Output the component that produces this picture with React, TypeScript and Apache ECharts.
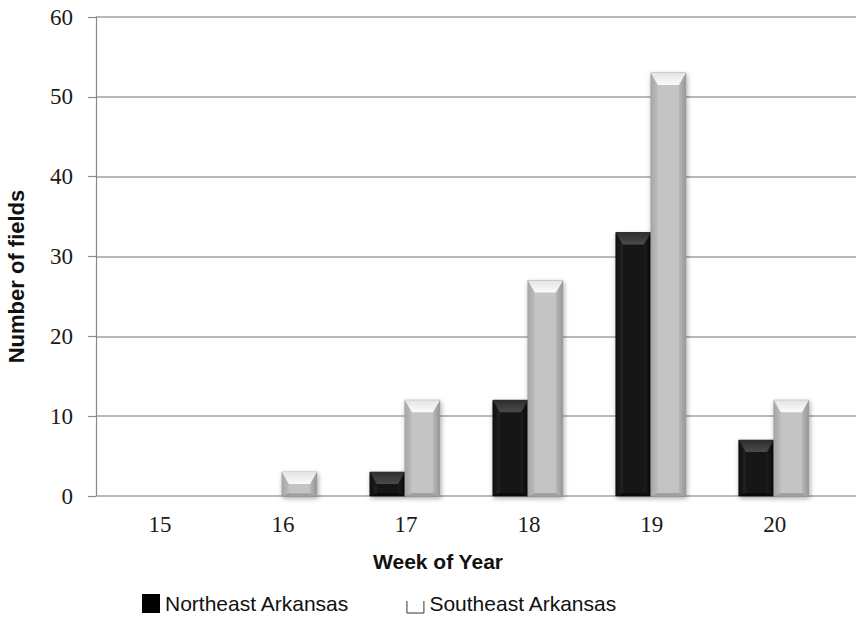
import React, { useEffect, useRef } from "react";
import * as echarts from "echarts";

const weeks = [15, 16, 17, 18, 19, 20];
const northeast = [0, 0, 3, 12, 33, 7];
const southeast = [0, 3, 12, 27, 53, 12];
const yTicks = [0, 10, 20, 30, 40, 50, 60];

const BAR_W = 35;

function bevelRenderer(offset: number, dark: boolean) {
  return (params: any, api: any) => {
    const x = api.value(0);
    const y = api.value(1);
    const top = api.coord([x, y]);
    const base = api.coord([x, 0]);
    const cx = top[0] + offset;
    const l = cx - BAR_W / 2;
    const r = cx + BAR_W / 2;
    const t = top[1];
    const b = base[1];
    const h = b - t;
    if (h <= 0.5) return null;
    const bev = Math.min(12, h * 0.55);
    const ins = 7;
    const bot = Math.min(3, h * 0.12);
    const body = dark ? "#161818" : "#c4c4c4";
    const topFill = dark
      ? new echarts.graphic.LinearGradient(0, 0, 0, 1, [
          { offset: 0, color: "#2c2e2e" },
          { offset: 1, color: "#4a4c4c" },
        ])
      : new echarts.graphic.LinearGradient(0, 0, 0, 1, [
          { offset: 0, color: "#e4e4e4" },
          { offset: 1, color: "#fbfbfb" },
        ]);
    const leftFill = dark
      ? new echarts.graphic.LinearGradient(0, 0, 1, 0, [
          { offset: 0, color: "#0e0e0e" },
          { offset: 1, color: "#222424" },
        ])
      : new echarts.graphic.LinearGradient(0, 0, 1, 0, [
          { offset: 0, color: "#a6a6a6" },
          { offset: 1, color: "#bdbdbd" },
        ]);
    const rightFill = dark
      ? new echarts.graphic.LinearGradient(0, 0, 1, 0, [
          { offset: 0, color: "#1c1e1e" },
          { offset: 1, color: "#080808" },
        ])
      : new echarts.graphic.LinearGradient(0, 0, 1, 0, [
          { offset: 0, color: "#b8b8b8" },
          { offset: 1, color: "#969696" },
        ]);
    const botFill = dark ? "#0a0a0a" : "#a0a0a0";
    const edge = dark ? "#000000" : "#8e8e8e";
    return {
      type: "group",
      children: [
        {
          type: "rect",
          shape: { x: l, y: t, width: BAR_W, height: h },
          style: {
            fill: body,
            stroke: edge,
            lineWidth: 0.6,
            shadowBlur: 5,
            shadowColor: "rgba(0,0,0,0.35)",
            shadowOffsetX: 1,
            shadowOffsetY: 2,
          },
        },
        {
          type: "polygon",
          shape: { points: [[l, t], [l + ins, t + bev], [l + ins, b - bot], [l, b]] },
          style: { fill: leftFill },
        },
        {
          type: "polygon",
          shape: { points: [[r, t], [r - ins, t + bev], [r - ins, b - bot], [r, b]] },
          style: { fill: rightFill },
        },
        {
          type: "polygon",
          shape: { points: [[l, b], [l + ins, b - bot], [r - ins, b - bot], [r, b]] },
          style: { fill: botFill },
        },
        {
          type: "polygon",
          shape: { points: [[l, t], [r, t], [r - ins, t + bev], [l + ins, t + bev]] },
          style: { fill: topFill },
        },
      ],
    };
  };
}

export default function App() {
  const ref = useRef<HTMLDivElement>(null);
  useEffect(() => {
    document.body.style.margin = "0";
    if (!ref.current) return;
    const chart = echarts.init(ref.current, null, { renderer: "svg" });
    const axisColor = "#8a8a8a";
    chart.setOption({
      animation: false,
      backgroundColor: "#ffffff",
      grid: {
        left: 96,
        right: 0,
        top: 17,
        bottom: 136,
        containLabel: false,
        outerBoundsMode: "none",
      },
      legend: {
        left: 137,
        top: 588,
        itemWidth: 18,
        itemHeight: 19,
        itemGap: 57,
        selectedMode: false,
        textStyle: { fontFamily: "Liberation Sans", fontSize: 21, color: "#111" },
        data: [
          { name: "Northeast Arkansas", icon: "rect", itemStyle: { color: "#000" } },
          {
            name: "Southeast Arkansas",
            icon: "path://M0 0M0 7V19H17V7",
            itemStyle: { color: "rgba(255,255,255,0)", borderColor: "#333", borderWidth: 1 },
          },
        ],
      },
      xAxis: {
        type: "value",
        min: 14.48,
        max: 20.66,
        name: "Week of Year",
        nameLocation: "middle",
        nameGap: 55,
        nameTextStyle: {
          fontFamily: "Liberation Sans",
          fontWeight: "bold",
          fontSize: 21,
          color: "#111",
          verticalAlign: "top",
          padding: [0, 76, 0, 0],
        },
        axisLine: { show: false },
        axisTick: { show: false },
        splitLine: { show: false },
        axisLabel: {
          customValues: weeks,
          margin: 17,
          fontFamily: "Liberation Serif",
          fontSize: 23,
          color: "#1a1a1a",
        },
      },
      yAxis: {
        type: "value",
        min: 0,
        max: 60,
        interval: 10,
        name: "Number of fields",
        nameLocation: "middle",
        nameGap: 69,
        nameTextStyle: {
          fontFamily: "Liberation Sans",
          fontWeight: "bold",
          fontSize: 22,
          color: "#111",
          padding: [0, 40, 0, 0],
        },
        axisLine: { show: true, lineStyle: { color: axisColor, width: 1.2 } },
        axisTick: { show: true, length: 8, lineStyle: { color: axisColor, width: 1.2 } },
        splitLine: {
          show: true,
          lineStyle: { color: "#a2a2a2", width: 1.5 },
        },
        axisLabel: {
          margin: 23,
          fontFamily: "Liberation Serif",
          fontSize: 23,
          color: "#1a1a1a",
          formatter: (v: number) => (yTicks.includes(v) ? String(v) : ""),
        },
      },
      series: [
        {
          name: "Northeast Arkansas",
          type: "custom",
          itemStyle: { color: "#000" },
          renderItem: bevelRenderer(-18.5, true),
          encode: { x: 0, y: 1 },
          data: weeks.map((w, i) => [w, northeast[i]]),
        },
        {
          name: "Southeast Arkansas",
          type: "custom",
          itemStyle: { color: "#c4c4c4" },
          renderItem: bevelRenderer(16.5, false),
          encode: { x: 0, y: 1 },
          data: weeks.map((w, i) => [w, southeast[i]]),
        },
      ],
    });
    return () => chart.dispose();
  }, []);
  return <div ref={ref} style={{ width: 856, height: 632 }} />;
}
